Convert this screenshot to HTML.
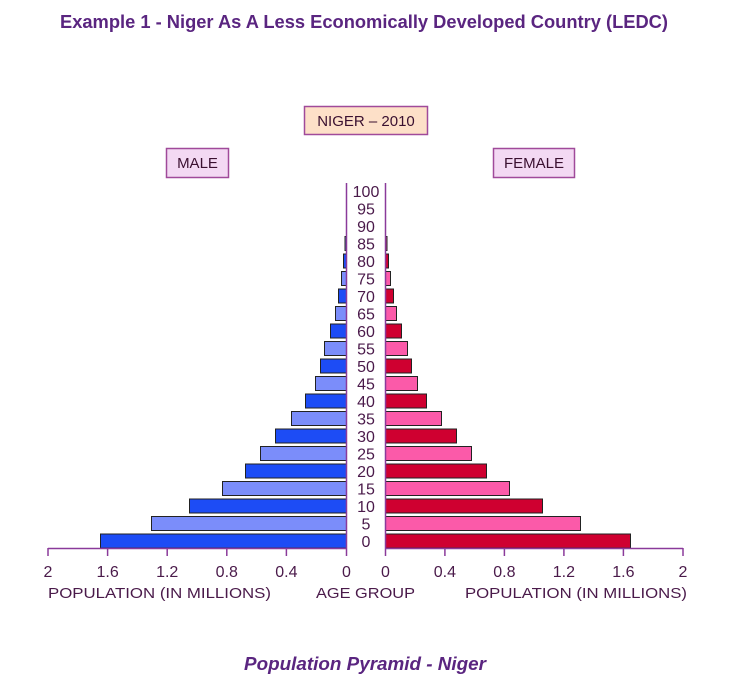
<!DOCTYPE html>
<html><head><meta charset="utf-8"><style>
html,body{margin:0;padding:0;background:#fff;}
svg{display:block;}
.t{font-family:"Liberation Sans",sans-serif;}
</style></head><body>
<svg width="731" height="688" viewBox="0 0 731 688" xmlns="http://www.w3.org/2000/svg">
<text class="t" x="364" y="28" text-anchor="middle" font-size="18" font-weight="bold" fill="#5a2580" textLength="608" lengthAdjust="spacingAndGlyphs">Example 1 - Niger As A Less Economically Developed Country (LEDC)</text>

<rect x="304.5" y="106.5" width="123" height="28" fill="#fde0c8" stroke="#a04a9a" stroke-width="1.5"/>
<text class="t" x="366" y="126" text-anchor="middle" font-size="15" fill="#3a1030">NIGER – 2010</text>
<rect x="166.5" y="148.5" width="62" height="29" fill="#f3d9f3" stroke="#a04a9a" stroke-width="1.5"/>
<text class="t" x="197.5" y="168" text-anchor="middle" font-size="15" fill="#3a1030">MALE</text>
<rect x="493.5" y="148.5" width="81" height="29" fill="#f3d9f3" stroke="#a04a9a" stroke-width="1.5"/>
<text class="t" x="534" y="168" text-anchor="middle" font-size="15" fill="#3a1030">FEMALE</text>

<g stroke="#222" stroke-width="1">
<rect x="100.5" y="534" width="246" height="14" fill="#1d4cf5"/>
<rect x="151.5" y="516.5" width="195" height="14" fill="#7b8dfa"/>
<rect x="189.5" y="499" width="157" height="14" fill="#1d4cf5"/>
<rect x="222.5" y="481.5" width="124" height="14" fill="#7b8dfa"/>
<rect x="245.5" y="464" width="101" height="14" fill="#1d4cf5"/>
<rect x="260.5" y="446.5" width="86" height="14" fill="#7b8dfa"/>
<rect x="275.5" y="429" width="71" height="14" fill="#1d4cf5"/>
<rect x="291.5" y="411.5" width="55" height="14" fill="#7b8dfa"/>
<rect x="305.5" y="394" width="41" height="14" fill="#1d4cf5"/>
<rect x="315.5" y="376.5" width="31" height="14" fill="#7b8dfa"/>
<rect x="320.5" y="359" width="26" height="14" fill="#1d4cf5"/>
<rect x="324.5" y="341.5" width="22" height="14" fill="#7b8dfa"/>
<rect x="330.5" y="324" width="16" height="14" fill="#1d4cf5"/>
<rect x="335.5" y="306.5" width="11" height="14" fill="#7b8dfa"/>
<rect x="338.5" y="289" width="8" height="14" fill="#1d4cf5"/>
<rect x="341.5" y="271.5" width="5" height="14" fill="#7b8dfa"/>
<rect x="343.5" y="254" width="3" height="14" fill="#1d4cf5"/>
<rect x="345" y="236.5" width="1.5" height="14" fill="#7b8dfa"/>
<rect x="385.5" y="534" width="245" height="14" fill="#cf0030"/>
<rect x="385.5" y="516.5" width="195" height="14" fill="#fb5aa9"/>
<rect x="385.5" y="499" width="157" height="14" fill="#cf0030"/>
<rect x="385.5" y="481.5" width="124" height="14" fill="#fb5aa9"/>
<rect x="385.5" y="464" width="101" height="14" fill="#cf0030"/>
<rect x="385.5" y="446.5" width="86" height="14" fill="#fb5aa9"/>
<rect x="385.5" y="429" width="71" height="14" fill="#cf0030"/>
<rect x="385.5" y="411.5" width="56" height="14" fill="#fb5aa9"/>
<rect x="385.5" y="394" width="41" height="14" fill="#cf0030"/>
<rect x="385.5" y="376.5" width="32" height="14" fill="#fb5aa9"/>
<rect x="385.5" y="359" width="26" height="14" fill="#cf0030"/>
<rect x="385.5" y="341.5" width="22" height="14" fill="#fb5aa9"/>
<rect x="385.5" y="324" width="16" height="14" fill="#cf0030"/>
<rect x="385.5" y="306.5" width="11" height="14" fill="#fb5aa9"/>
<rect x="385.5" y="289" width="8" height="14" fill="#cf0030"/>
<rect x="385.5" y="271.5" width="5" height="14" fill="#fb5aa9"/>
<rect x="385.5" y="254" width="3" height="14" fill="#cf0030"/>
<rect x="385.5" y="236.5" width="1.5" height="14" fill="#fb5aa9"/>
</g>

<g stroke="#8a3a9a" stroke-width="1.5" fill="none">
<line x1="346.5" y1="183" x2="346.5" y2="556"/>
<line x1="385.5" y1="183" x2="385.5" y2="556"/>
<line x1="48" y1="548.5" x2="346.5" y2="548.5"/>
<line x1="385.5" y1="548.5" x2="683" y2="548.5"/>
<line x1="48" y1="548" x2="48" y2="556"/>
<line x1="107.6" y1="548" x2="107.6" y2="556"/>
<line x1="167.2" y1="548" x2="167.2" y2="556"/>
<line x1="226.8" y1="548" x2="226.8" y2="556"/>
<line x1="286.4" y1="548" x2="286.4" y2="556"/>
<line x1="444.9" y1="548" x2="444.9" y2="556"/>
<line x1="504.4" y1="548" x2="504.4" y2="556"/>
<line x1="563.9" y1="548" x2="563.9" y2="556"/>
<line x1="623.4" y1="548" x2="623.4" y2="556"/>
<line x1="683" y1="548" x2="683" y2="556"/>
</g>

<g class="t" font-size="16" fill="#4a1a4a" text-anchor="middle">
<text x="366" y="547">0</text>
<text x="366" y="529.5">5</text>
<text x="366" y="512">10</text>
<text x="366" y="494.5">15</text>
<text x="366" y="477">20</text>
<text x="366" y="459.5">25</text>
<text x="366" y="442">30</text>
<text x="366" y="424.5">35</text>
<text x="366" y="407">40</text>
<text x="366" y="389.5">45</text>
<text x="366" y="372">50</text>
<text x="366" y="354.5">55</text>
<text x="366" y="337">60</text>
<text x="366" y="319.5">65</text>
<text x="366" y="302">70</text>
<text x="366" y="284.5">75</text>
<text x="366" y="267">80</text>
<text x="366" y="249.5">85</text>
<text x="366" y="232">90</text>
<text x="366" y="214.5">95</text>
<text x="366" y="197">100</text>
</g>

<g class="t" font-size="16" fill="#4a1a4a" text-anchor="middle">
<text x="48" y="577">2</text>
<text x="107.6" y="577">1.6</text>
<text x="167.2" y="577">1.2</text>
<text x="226.8" y="577">0.8</text>
<text x="286.4" y="577">0.4</text>
<text x="346.5" y="577">0</text>
<text x="385.5" y="577">0</text>
<text x="444.9" y="577">0.4</text>
<text x="504.4" y="577">0.8</text>
<text x="563.9" y="577">1.2</text>
<text x="623.4" y="577">1.6</text>
<text x="683" y="577">2</text>
</g>
<g class="t" font-size="15" fill="#4a1a4a">
<text x="48" y="598" textLength="223" lengthAdjust="spacingAndGlyphs">POPULATION (IN MILLIONS)</text>
<text x="316" y="598" textLength="99" lengthAdjust="spacingAndGlyphs">AGE GROUP</text>
<text x="465" y="598" textLength="222" lengthAdjust="spacingAndGlyphs">POPULATION (IN MILLIONS)</text>
</g>

<text class="t" x="365" y="670" text-anchor="middle" font-size="18" font-weight="bold" font-style="italic" fill="#5a2580" textLength="242" lengthAdjust="spacingAndGlyphs">Population Pyramid - Niger</text>
</svg>
</body></html>
